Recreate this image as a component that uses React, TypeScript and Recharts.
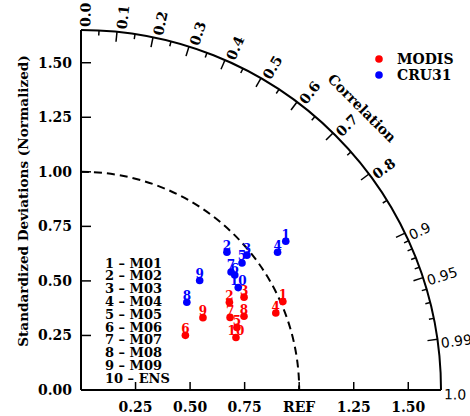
import React from 'react';
import { ScatterChart, Scatter, XAxis, YAxis } from 'recharts';

// Taylor diagram: normalized standard deviation vs. correlation
const numbers = ['1', '2', '3', '4', '5', '6', '7', '8', '9', '10'];
const models = ['M01', 'M02', 'M03', 'M04', 'M05', 'M06', 'M07', 'M08', 'M09', 'ENS'];

const modisStd = [1.01, 0.79, 0.86, 0.96, 0.77, 0.54, 0.76, 0.82, 0.65, 0.75];
const modisCorr = [0.916, 0.861, 0.869, 0.93, 0.928, 0.886, 0.899, 0.911, 0.86, 0.947];
const cruStd = [1.16, 0.92, 0.98, 1.1, 0.94, 0.88, 0.875, 0.63, 0.74, 0.86];
const cruCorr = [0.809, 0.727, 0.776, 0.819, 0.785, 0.801, 0.786, 0.77, 0.735, 0.838];

const stdTicks = [0, 0.25, 0.5, 0.75, 1, 1.25, 1.5];
const xTicks = [0.25, 0.5, 0.75, 1, 1.25, 1.5];
const corrMajor = [0, 0.1, 0.2, 0.3, 0.4, 0.5, 0.6, 0.7, 0.8, 0.9, 0.95, 0.99, 1.0];
const corrMinor = [0.05, 0.15, 0.25, 0.35, 0.45, 0.55, 0.65, 0.75, 0.85, 0.91, 0.92, 0.93, 0.94, 0.96, 0.97, 0.98];
const corrLabels = ['0.0', '0.1', '0.2', '0.3', '0.4', '0.5', '0.6', '0.7', '0.8', '0.9', '0.95', '0.99', '1.0'];

const MAX = 1.65;
const W = 470;
const H = 416;
const MARGIN = { top: 30, right: 29, bottom: 0, left: 31 };
const PLOT_W = W - MARGIN.left - 50 - MARGIN.right;
const FONT = '"DejaVu Serif", serif';
const RED = '#ff0000';
const BLUE = '#0000ff';

function toPoints(std: number[], corr: number[]) {
  return std.map((s, i) => ({
    x: s * corr[i],
    y: s * Math.sqrt(1 - corr[i] * corr[i]),
    label: numbers[i],
  }));
}

const modisPts = toPoints(modisStd, modisCorr);
const cruPts = toPoints(cruStd, cruCorr);

const marker = (color: string) => (p: any) => (
  <g>
    <circle cx={p.cx} cy={p.cy} r={3.8} fill={color} />
    <text
      x={p.cx}
      y={p.cy - 2.5}
      textAnchor="middle"
      fontFamily={FONT}
      fontWeight="bold"
      fontSize={12}
      fill={color}
    >
      {p.payload.label}
    </text>
  </g>
);

// arcs, correlation ticks, labels and legends around the origin
const Frame = ({ cx, cy }: any) => {
  const u = PLOT_W / MAX;
  const R = MAX * u;
  const pt = (r: number, c: number) => {
    const t = Math.acos(c);
    return [cx + r * Math.cos(t), cy - r * Math.sin(t)];
  };
  return (
    <g>
      <path
        d={`M ${cx} ${cy - R} A ${R} ${R} 0 0 1 ${cx + R} ${cy}`}
        fill="none"
        stroke="#000"
        strokeWidth={2}
      />
      <path
        d={`M ${cx} ${cy - u} A ${u} ${u} 0 0 1 ${cx + u} ${cy}`}
        fill="none"
        stroke="#000"
        strokeWidth={2}
        strokeDasharray="8 5"
      />
      {corrMajor.map((c) => {
        const [x1, y1] = pt(R, c);
        const [x2, y2] = pt(R - 10, c);
        return <line key={'M' + c} x1={x1} y1={y1} x2={x2} y2={y2} stroke="#000" strokeWidth={1.5} />;
      })}
      {corrMinor.map((c) => {
        const [x1, y1] = pt(R, c);
        const [x2, y2] = pt(R - 5, c);
        return <line key={'m' + c} x1={x1} y1={y1} x2={x2} y2={y2} stroke="#000" strokeWidth={1.5} />;
      })}
      {corrMajor.map((c, i) => {
        const t = Math.acos(c) - 0.012;
        const x = cx + (R + 3) * Math.cos(t);
        const y = cy - (R + 3) * Math.sin(t);
        const low = c >= 0.9;
        return (
          <text
            key={'l' + c}
            x={x}
            y={y}
            transform={`rotate(${(-t * 180) / Math.PI} ${x} ${y})`}
            textAnchor="start"
            dominantBaseline="central"
            fontFamily={low ? '"DejaVu Sans", sans-serif' : FONT}
            fontWeight={low ? 'normal' : 'bold'}
            fontSize={14}
            fill="#000"
          >
            {corrLabels[i]}
          </text>
        );
      })}
      <text
        x={cx + 281}
        y={cy - 282}
        transform={`rotate(45 ${cx + 281} ${cy - 282})`}
        textAnchor="middle"
        dominantBaseline="central"
        fontFamily={FONT}
        fontWeight="bold"
        fontSize={14}
      >
        Correlation
      </text>
      <text
        x={23}
        y={201}
        transform="rotate(-90 23 201)"
        textAnchor="middle"
        dominantBaseline="central"
        fontFamily={FONT}
        fontWeight="bold"
        fontSize={13.6}
      >
        Standardized Deviations (Normalized)
      </text>
      {numbers.map((n, i) => (
        <text
          key={'k' + n}
          x={105}
          y={263 + i * 12.8}
          dominantBaseline="central"
          fontFamily={FONT}
          fontWeight="bold"
          fontSize={13}
        >
          {`${n} \u2013 ${models[i]}`}
        </text>
      ))}
      <circle cx={379} cy={59} r={3.8} fill={RED} />
      <text x={397} y={59} dominantBaseline="central" fontFamily={FONT} fontWeight="bold" fontSize={14}>
        MODIS
      </text>
      <circle cx={379} cy={75} r={3.8} fill={BLUE} />
      <text x={397} y={75} dominantBaseline="central" fontFamily={FONT} fontWeight="bold" fontSize={14}>
        CRU31
      </text>
    </g>
  );
};

const XTick = ({ x, y, payload }: any) => (
  <g>
    <line x1={x} y1={y} x2={x} y2={y - 8} stroke="#000" strokeWidth={1.5} />
    <text
      x={x}
      y={y + 17}
      textAnchor="middle"
      dominantBaseline="central"
      fontFamily={FONT}
      fontWeight="bold"
      fontSize={14}
    >
      {payload.value === 1 ? 'REF' : payload.value.toFixed(2)}
    </text>
  </g>
);

const YTick = ({ x, y, payload }: any) => (
  <g>
    <line x1={x} y1={y} x2={x + 10} y2={y} stroke="#000" strokeWidth={1.5} />
    <text
      x={x - 9}
      y={y}
      textAnchor="end"
      dominantBaseline="central"
      fontFamily={FONT}
      fontWeight="bold"
      fontSize={14}
    >
      {payload.value.toFixed(2)}
    </text>
  </g>
);

export default function App() {
  return (
    <div style={{ position: 'absolute', left: 0, top: 0, width: W, height: H, background: '#fff' }}>
      <ScatterChart width={W} height={H} margin={MARGIN}>
        <XAxis
          type="number"
          dataKey="x"
          domain={[0, MAX]}
          ticks={xTicks}
          height={26}
          tickSize={0}
          tickMargin={0}
          tickLine={false}
          axisLine={{ stroke: '#000', strokeWidth: 2 }}
          tick={<XTick />}
          interval={0}
        />
        <YAxis
          type="number"
          dataKey="y"
          domain={[0, MAX]}
          ticks={stdTicks}
          width={50}
          tickSize={0}
          tickMargin={0}
          tickLine={false}
          axisLine={{ stroke: '#000', strokeWidth: 2 }}
          tick={<YTick />}
          interval={0}
        />
        <Scatter data={[{ x: 0, y: 0 }]} shape={(p: any) => <Frame cx={p.cx} cy={p.cy} />} isAnimationActive={false} />
        <Scatter data={modisPts} shape={marker(RED)} isAnimationActive={false} />
        <Scatter data={cruPts} shape={marker(BLUE)} isAnimationActive={false} />
      </ScatterChart>
    </div>
  );
}
